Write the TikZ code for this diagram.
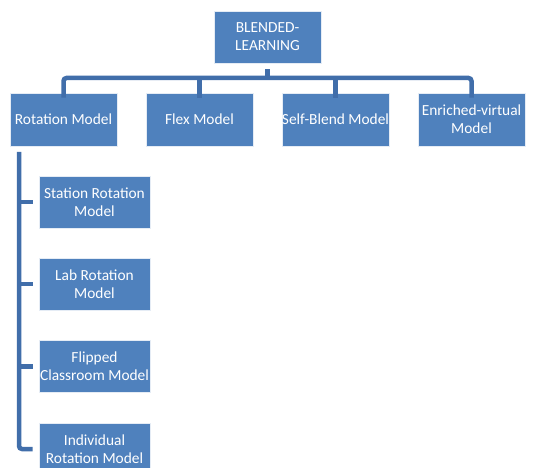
\documentclass[tikz,border=0pt]{standalone}
\usepackage{fontspec}
\setmainfont{Carlito}
\definecolor{boxblue}{HTML}{4F81BD}
\definecolor{lineblue}{HTML}{416EAA}
\tikzset{
  box/.style={rectangle, fill=boxblue, draw=white!85!boxblue, line width=0.6pt, text=white,
    minimum width=107pt, minimum height=53pt, inner sep=0pt, align=center,
    font=\fontsize{15.4}{17.8}\selectfont},
  child/.style={box, minimum width=111pt, minimum height=52pt},
  conn/.style={draw=lineblue, line width=4.5pt, rounded corners=3pt}
}
\begin{document}
\begin{tikzpicture}[x=1pt,y=-1pt]
\clip (0,0) rectangle (539,468);
\fill[white] (0,0) rectangle (539,468);
\node[box, minimum height=52pt] (top) at (267.5,37) {BLENDED-\\LEARNING};
\node[box] (rot) at (63.5,119.5) {Rotation Model};
\node[box] (flex) at (199.5,119.5) {Flex Model};
\node[box] (self) at (335.5,119.5) {Self-Blend Model};
\node[box] (enr) at (471.5,119.5) {Enriched-virtual\\Model};
\node[child] (c1) at (94.5,202) {Station Rotation\\Model};
\node[child] (c2) at (94.5,284) {Lab Rotation\\Model};
\node[child] (c3) at (94.5,366.5) {Flipped\\Classroom Model};
\node[child] (c4) at (94.5,449) {Individual\\Rotation Model};
\coordinate (bar) at (267.5,78);
\coordinate (spine) at (19,152);
\draw[conn, rounded corners=0pt, shorten <=6pt] (top.south) -- (bar);
\draw[conn] ([yshift=-5pt]rot.north) |- (bar) -| ([yshift=-5pt]enr.north);
\draw[conn, rounded corners=0pt] ([yshift=-5pt]flex.north) -- (flex.north |- bar);
\draw[conn, rounded corners=0pt] ([yshift=-5pt]self.north) -- (self.north |- bar);
\draw[conn] (spine) |- ([xshift=-6pt]c4.west);
\draw[conn, rounded corners=0pt] (spine |- c1.west) -- ([xshift=-6pt]c1.west);
\draw[conn, rounded corners=0pt] (spine |- c2.west) -- ([xshift=-6pt]c2.west);
\draw[conn, rounded corners=0pt] (spine |- c3.west) -- ([xshift=-6pt]c3.west);
\end{tikzpicture}
\end{document}
